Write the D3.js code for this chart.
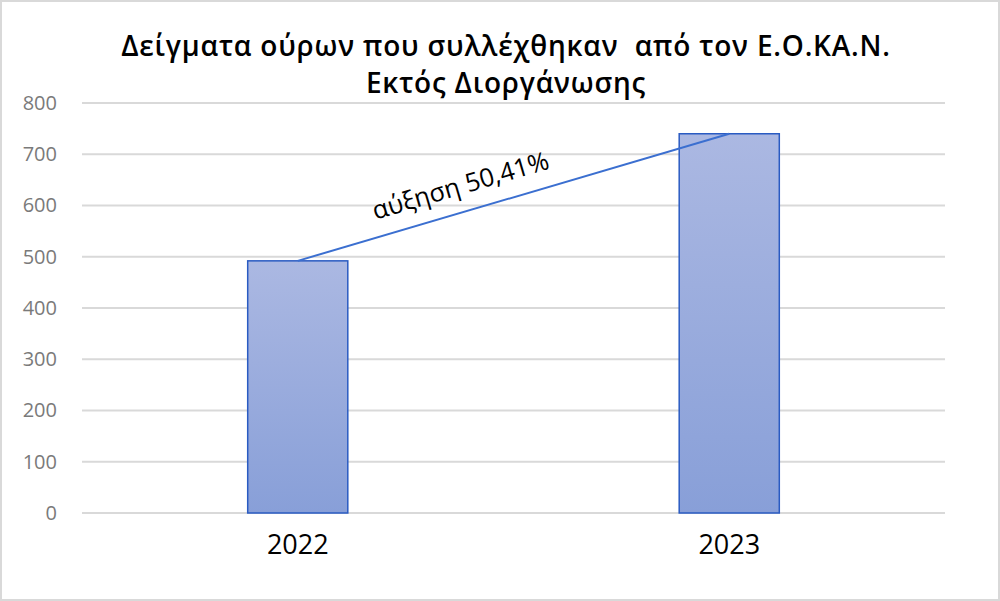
<!DOCTYPE html>
<html>
<head>
<meta charset="utf-8">
<script src="https://cdn.jsdelivr.net/npm/d3@7"></script>
<style>
  body { margin: 0; background: #fff; }
  svg { display: block; }
</style>
</head>
<body>
<div id="chart"></div>
<script>
// data
var years = ["2022", "2023"];
var samples = [492, 740];
var yTicks = [0, 100, 200, 300, 400, 500, 600, 700, 800];
var titleLines = ["Δείγματα ούρων που συλλέχθηκαν  από τον Ε.Ο.ΚΑ.Ν.", "Εκτός Διοργάνωσης"];
var growthLabel = "αύξηση 50,41%";

var W = 1000, H = 601;
var margin = { top: 103, right: 55, bottom: 88, left: 82 };
var width = W - margin.left - margin.right;
var height = H - margin.top - margin.bottom;

var svg = d3.select("#chart").append("svg")
  .attr("width", W)
  .attr("height", H);

// outer border
svg.append("rect")
  .attr("x", 1).attr("y", 1)
  .attr("width", W - 2).attr("height", H - 2)
  .attr("fill", "#fff")
  .attr("stroke", "#d9d9d9")
  .attr("stroke-width", 2);

// gradient for bars
var grad = svg.append("defs").append("linearGradient")
  .attr("id", "barGrad")
  .attr("x1", 0).attr("y1", 0).attr("x2", 0).attr("y2", 1);
grad.append("stop").attr("offset", "0%").attr("stop-color", "#abb8e2");
grad.append("stop").attr("offset", "100%").attr("stop-color", "#889fd8");

// title
svg.append("text")
  .attr("text-anchor", "middle")
  .attr("font-family", "'Open Sans', sans-serif")
  .attr("font-weight", 600)
  .attr("font-size", 28)
  .attr("letter-spacing", 0.8)
  .attr("fill", "#000")
  .style("white-space", "pre")
  .selectAll("tspan")
  .data(titleLines)
  .enter().append("tspan")
  .attr("x", W / 2 + 6)
  .attr("y", function(d, i) { return 56 + i * 37; })
  .text(function(d) { return d; });

var g = svg.append("g")
  .attr("transform", "translate(" + margin.left + "," + margin.top + ")");

// scales
var x = d3.scaleBand()
  .domain(years)
  .range([0, width])
  .padding(0);

var y = d3.scaleLinear()
  .domain([0, 800])
  .range([height, 0]);

// gridlines
g.append("g")
  .selectAll("line")
  .data(yTicks)
  .enter().append("line")
  .attr("x1", 0).attr("x2", width)
  .attr("y1", function(d) { return y(d); })
  .attr("y2", function(d) { return y(d); })
  .attr("stroke", "#d9d9d9")
  .attr("stroke-width", 2);

// y axis
var yAxis = d3.axisLeft(y)
  .tickValues(yTicks)
  .tickSize(0)
  .tickPadding(25);

g.append("g")
  .attr("class", "y-axis")
  .call(yAxis)
  .call(function(s) { s.select(".domain").remove(); })
  .selectAll("text")
  .attr("font-family", "'Open Sans', sans-serif")
  .attr("font-size", 20)
  .attr("fill", "#7a7a7a");

// x axis
var xAxis = d3.axisBottom(x)
  .tickSize(0)
  .tickPadding(22);

g.append("g")
  .attr("class", "x-axis")
  .attr("transform", "translate(0," + height + ")")
  .call(xAxis)
  .call(function(s) { s.select(".domain").remove(); })
  .selectAll("text")
  .attr("font-family", "'Open Sans', sans-serif")
  .attr("font-size", 27)
  .attr("fill", "#000");

// bars
var barW = x.bandwidth() * 0.232;

g.selectAll(".bar")
  .data(samples)
  .enter().append("rect")
  .attr("class", "bar")
  .attr("x", function(d, i) { return x(years[i]) + x.bandwidth() / 2 - barW / 2; })
  .attr("y", function(d) { return y(d); })
  .attr("width", barW)
  .attr("height", function(d) { return height - y(d); })
  .attr("fill", "url(#barGrad)")
  .attr("stroke", "#2a5bc2")
  .attr("stroke-width", 1.5);

// growth line between bar tops
var p0 = [x(years[0]) + x.bandwidth() / 2, y(samples[0])];
var p1 = [x(years[1]) + x.bandwidth() / 2, y(samples[1])];

g.append("line")
  .attr("x1", p0[0]).attr("y1", p0[1])
  .attr("x2", p1[0]).attr("y2", p1[1])
  .attr("stroke", "#3b6fd0")
  .attr("stroke-width", 2);

// growth label
var angle = Math.atan2(p1[1] - p0[1], p1[0] - p0[0]) * 180 / Math.PI;
g.append("text")
  .attr("transform", "translate(" + (463 - margin.left) + "," + (194 - margin.top) + ") rotate(" + angle + ")")
  .attr("text-anchor", "middle")
  .attr("font-family", "'Open Sans', sans-serif")
  .attr("font-size", 25.5)
  .attr("fill", "#000")
  .text(growthLabel);
</script>
</body>
</html>
